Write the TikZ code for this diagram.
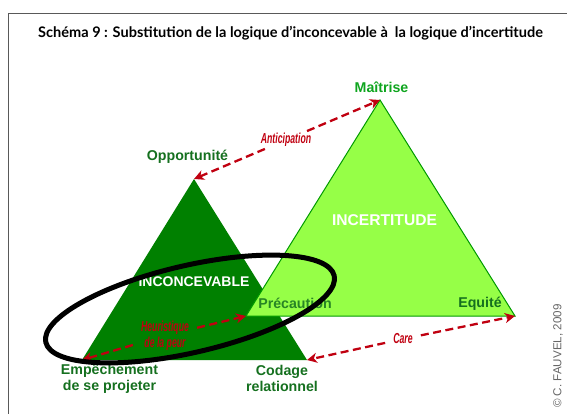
\documentclass[tikz,border=0pt]{standalone}
\usepackage{fontspec}
\usepackage{graphicx}
\setmainfont{Liberation Sans}
\newfontfamily\titlefont{Lato}
\usetikzlibrary{arrows.meta}
\definecolor{darkg}{HTML}{008000}
\definecolor{lightg}{HTML}{96FF47}
\definecolor{edgeg}{HTML}{009A00}
\definecolor{labg}{HTML}{15701F}
\definecolor{maig}{HTML}{0FA51F}
\definecolor{redd}{HTML}{C00010}
\newcommand{\narrowtxt}[1]{\scalebox{.6}[1]{#1}}
\tikzset{
  lab/.style={font=\fontsize{14.2}{16}\selectfont\bfseries, text=labg, align=center, inner sep=0pt},
  big/.style={font=\fontsize{14}{16}\selectfont\bfseries, text=white, inner sep=0pt},
  redlab/.style={font=\fontsize{14.5}{16}\selectfont\bfseries\itshape, text=redd, align=center, inner xsep=8pt, inner ysep=2pt},
  redarr/.style={draw=redd, line width=2.3pt, dash pattern=on 8pt off 4.5pt, -{Stealth[length=10pt,width=10pt,inset=3pt]}},
}
\begin{document}
\begin{tikzpicture}[x=1pt,y=-1pt]
\useasboundingbox (0,0) rectangle (567,414);
\draw[draw=black!65, line width=1pt] (8,414) -- (8,13.5) -- (567,13.5);
\node[anchor=west, inner sep=0pt, font=\titlefont\fontsize{14.55}{16}\selectfont\bfseries] (title) at (38,33) {Schéma 9 : Substitution de la logique d’inconcevable à \ la logique d’incertitude};
\coordinate (opp) at (194,179);
\coordinate (emp) at (82,360);
\coordinate (cod) at (307,360);
\coordinate (mai) at (380,100);
\coordinate (pre) at (246,316);
\coordinate (equ) at (515,316);
\fill[darkg] (opp) -- (cod) -- (emp) -- cycle;
\draw[edgeg, fill=lightg, line width=1pt, line join=miter] (mai) -- (equ) -- (pre) -- cycle;
\node[lab] (lopp) at (187.5,157) {Opportunité};
\node[lab, text=maig] (lmai) at (381.5,87.5) {Maîtrise};
\node[lab] (lemp) at (109.5,379) {Empêchement\\de se projeter};
\node[lab] (lcod) at (282,378.5) {Codage\\relationnel};
\node[lab, text=labg!85!lightg] (lpre) at (295,303.5) {Précaution};
\node[lab] (lequ) at (480,304) {Equité};
\node[big] (linc) at (194,282) {INCONCEVABLE};
\node[big, font=\fontsize{15.6}{17}\selectfont\bfseries] (lcer) at (384.5,220) {INCERTITUDE};
\node[redlab] (hlab) at (165,335.5) {\narrowtxt{Heuristique}\\\narrowtxt{de la peur}};
\node[redlab, inner xsep=2pt] (alab) at (286,140) {\narrowtxt{Anticipation}};
\node[redlab] (clab) at (403,339) {\narrowtxt{Care}};
\draw[redarr] (alab) -- (mai);
\draw[redarr] (alab) -- (opp);
\draw[redarr] (hlab) -- (pre);
\draw[redarr] (hlab) -- (emp);
\draw[redarr] (clab) -- (equ);
\draw[redarr] (clab) -- (cod);
\draw[black, line width=5pt, rotate around={13:(190,309)}] (190,309) ellipse [x radius=148, y radius=43.5];
\node[rotate=90, anchor=west, inner sep=0pt, text=black!60, font=\fontsize{11.6}{13}\selectfont] (copy) at (558,408) {© C. FAUVEL, 2009};
\end{tikzpicture}
\end{document}
